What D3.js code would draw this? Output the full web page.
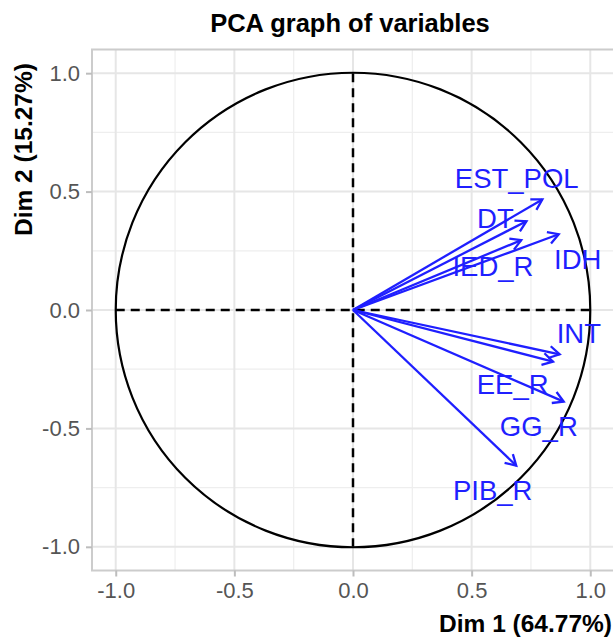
<!DOCTYPE html>
<html>
<head>
<meta charset="utf-8">
<script src="https://cdn.jsdelivr.net/npm/d3@7"></script>
<style>
  body { margin: 0; background: #fff; }
  text { font-family: "Liberation Sans", Arial, sans-serif; }
</style>
</head>
<body>
<div id="chart"></div>
<script>
// variable coordinates on the first two dimensions
var vars = ["EST_POL", "DT", "IED_R", "IDH", "INT", "EE_R", "GG_R", "PIB_R"];
var dim1 = [0.798, 0.731, 0.709, 0.867, 0.871, 0.843, 0.888, 0.688];
var dim2 = [0.467, 0.375, 0.295, 0.320, -0.187, -0.218, -0.387, -0.657];
// where the (repelled) labels ended up, in the same units
var labelDim1 = [0.690, 0.600, 0.590, 0.947, 0.952, 0.673, 0.783, 0.589];
var labelDim2 = [0.555, 0.387, 0.184, 0.216, -0.098, -0.312, -0.492, -0.762];

var majorTicks = [-1, -0.5, 0, 0.5, 1];
var minorTicks = [-0.75, -0.25, 0.25, 0.75];

var svg = d3.select("#chart").append("svg")
    .attr("width", 613)
    .attr("height", 639);

var x = d3.scaleLinear().domain([-1.1, 1.1]).range([92, 614]);
var y = d3.scaleLinear().domain([-1.1, 1.1]).range([570.5, 49.5]);

// gridlines
var grid = svg.append("g");
grid.selectAll(".minx").data(minorTicks).enter().append("line")
    .attr("x1", function(d){ return x(d); }).attr("x2", function(d){ return x(d); })
    .attr("y1", y(-1.1)).attr("y2", y(1.1))
    .attr("stroke", "#eeeeee").attr("stroke-width", 1.2);
grid.selectAll(".miny").data(minorTicks).enter().append("line")
    .attr("y1", function(d){ return y(d); }).attr("y2", function(d){ return y(d); })
    .attr("x1", x(-1.1)).attr("x2", x(1.1))
    .attr("stroke", "#eeeeee").attr("stroke-width", 1.2);
grid.selectAll(".majx").data(majorTicks).enter().append("line")
    .attr("x1", function(d){ return x(d); }).attr("x2", function(d){ return x(d); })
    .attr("y1", y(-1.1)).attr("y2", y(1.1))
    .attr("stroke", "#e6e6e6").attr("stroke-width", 2);
grid.selectAll(".majy").data(majorTicks).enter().append("line")
    .attr("y1", function(d){ return y(d); }).attr("y2", function(d){ return y(d); })
    .attr("x1", x(-1.1)).attr("x2", x(1.1))
    .attr("stroke", "#e6e6e6").attr("stroke-width", 2);

// panel border
svg.append("rect")
    .attr("x", x(-1.1)).attr("y", y(1.1))
    .attr("width", x(1.1) - x(-1.1)).attr("height", y(-1.1) - y(1.1))
    .attr("fill", "none").attr("stroke", "#cccccc").attr("stroke-width", 2);

// axes
var xAxis = svg.append("g")
    .attr("transform", "translate(0," + y(-1.1) + ")")
    .call(d3.axisBottom(x).tickValues(majorTicks).tickSize(6).tickPadding(6));
var yAxis = svg.append("g")
    .attr("transform", "translate(" + x(-1.1) + ",0)")
    .call(d3.axisLeft(y).tickValues(majorTicks).tickSize(6).tickPadding(6));
[xAxis, yAxis].forEach(function(a){
  a.select(".domain").remove();
  a.selectAll(".tick line").attr("stroke", "#bdbdbd").attr("stroke-width", 2);
  a.selectAll(".tick text")
      .attr("fill", "#555555")
      .style("font-size", "22px")
      .style("font-family", "'Liberation Sans', Arial, sans-serif")
      .text(function(d){ return d3.format(".1f")(d).replace("−", "-"); });
});

// correlation circle
svg.append("circle")
    .attr("cx", x(0)).attr("cy", y(0))
    .attr("r", x(1) - x(0))
    .attr("fill", "none").attr("stroke", "#000").attr("stroke-width", 2.2);

// dashed axes through origin
svg.append("line")
    .attr("x1", x(-1)).attr("x2", x(1)).attr("y1", y(0)).attr("y2", y(0))
    .attr("stroke", "#000").attr("stroke-width", 2.5).attr("stroke-dasharray", "9,6");
svg.append("line")
    .attr("x1", x(0)).attr("x2", x(0)).attr("y1", y(1)).attr("y2", y(-1))
    .attr("stroke", "#000").attr("stroke-width", 2.5).attr("stroke-dasharray", "9,6");

// arrows
var col = "#1f1fff";
var headLen = 12, headAng = Math.PI / 6;
var arrows = svg.append("g");
vars.forEach(function(v, i){
  var x1 = x(0), y1 = y(0), x2 = x(dim1[i]), y2 = y(dim2[i]);
  var a = Math.atan2(y2 - y1, x2 - x1);
  arrows.append("line")
      .attr("x1", x1).attr("y1", y1).attr("x2", x2).attr("y2", y2)
      .attr("stroke", col).attr("stroke-width", 2.3);
  var p = d3.path();
  p.moveTo(x2 - headLen * Math.cos(a - headAng), y2 - headLen * Math.sin(a - headAng));
  p.lineTo(x2, y2);
  p.lineTo(x2 - headLen * Math.cos(a + headAng), y2 - headLen * Math.sin(a + headAng));
  arrows.append("path").attr("d", p.toString())
      .attr("fill", "none").attr("stroke", col).attr("stroke-width", 2.3)
      .attr("stroke-linejoin", "miter");
});

svg.append("g").selectAll("text").data(vars).enter().append("text")
    .attr("x", function(d, i){ return x(labelDim1[i]); })
    .attr("y", function(d, i){ return y(labelDim2[i]); })
    .attr("text-anchor", "middle")
    .attr("dy", "0.36em")
    .attr("fill", col)
    .style("font-size", "27.5px")
    .text(function(d){ return d; });

// titles
svg.append("text")
    .attr("x", 350).attr("y", 31.5)
    .attr("text-anchor", "middle")
    .style("font-size", "25.5px").style("font-weight", "bold")
    .text("PCA graph of variables");

svg.append("text")
    .attr("x", 612).attr("y", 632)
    .attr("text-anchor", "end")
    .style("font-size", "24.5px").style("font-weight", "bold")
    .text("Dim 1 (64.77%)");

svg.append("text")
    .attr("transform", "translate(32,236)rotate(-90)")
    .attr("text-anchor", "start")
    .style("font-size", "24.5px").style("font-weight", "bold")
    .text("Dim 2 (15.27%)");
</script>
</body>
</html>
